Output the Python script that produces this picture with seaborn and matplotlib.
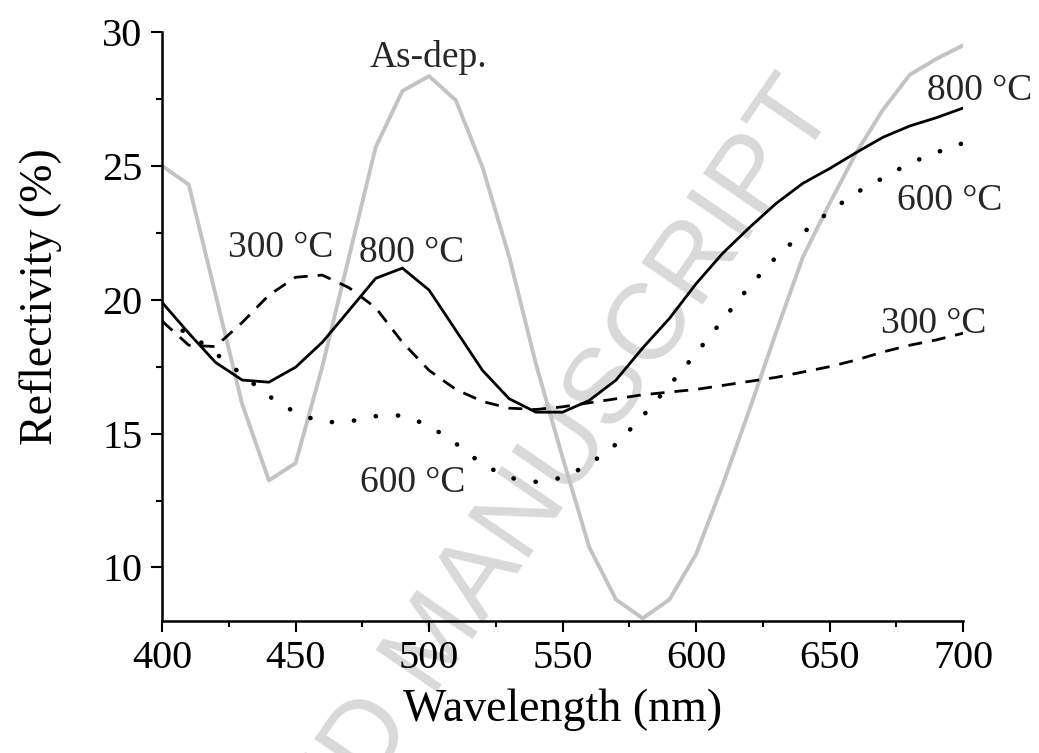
import numpy as np
import pandas as pd
import matplotlib
matplotlib.use("Agg")
import matplotlib.pyplot as plt
import seaborn as sns

# Wavelength grid (nm)
wavelength = [400, 410, 420, 430, 440, 450, 460, 470, 480, 490, 500,
              510, 520, 530, 540, 550, 560, 570, 580, 590, 600,
              610, 620, 630, 640, 650, 660, 670, 680, 690, 700]

# Reflectivity (%) per sample
as_dep = [25.0, 24.3, 20.2, 16.1, 13.25, 13.9, 17.5, 21.6, 25.7, 27.8, 28.35,
          27.45, 24.95, 21.6, 17.6, 14.1, 10.75, 8.8, 8.1, 8.8, 10.5,
          13.1, 15.9, 18.8, 21.6, 23.6, 25.5, 27.1, 28.4, 29.0, 29.5]
t300 = [19.2, 18.3, 18.25, 19.15, 20.17, 20.84, 20.92, 20.45, 19.7, 18.41, 17.36,
        16.65, 16.2, 15.95, 15.9, 16.0, 16.15, 16.3, 16.45, 16.55, 16.65,
        16.8, 16.95, 17.1, 17.3, 17.5, 17.75, 18.05, 18.3, 18.5, 18.75]
t600 = [19.16, 18.75, 18.0, 17.2, 16.4, 15.78, 15.42, 15.45, 15.65, 15.68, 15.3,
        14.63, 13.85, 13.35, 13.2, 13.35, 13.85, 14.6, 15.65, 16.8, 18.0,
        19.25, 20.5, 21.6, 22.5, 23.3, 24.0, 24.55, 25.1, 25.5, 25.85]
t800 = [19.9, 18.75, 17.66, 17.0, 16.92, 17.48, 18.41, 19.6, 20.8, 21.18, 20.36,
        18.86, 17.36, 16.3, 15.8, 15.8, 16.24, 17.0, 18.2, 19.3, 20.6,
        21.74, 22.7, 23.6, 24.35, 24.9, 25.5, 26.07, 26.49, 26.8, 27.16]

# Curve labels: text, wavelength, reflectivity (baseline)
label_text = ["As-dep.", "300 °C", "800 °C", "600 °C", "800 °C", "600 °C", "300 °C"]
label_x = [499.6, 444.6, 493.3, 494.0, 706.0, 695.0, 689.0]
label_y = [28.69, 21.59, 21.40, 12.80, 27.46, 23.35, 18.75]

x_ticks = [400, 450, 500, 550, 600, 650, 700]
y_ticks = [10, 15, 20, 25, 30]

sns.set_theme(style="ticks")
plt.rcParams["font.family"] = ["Liberation Serif", "DejaVu Serif"]

fig = plt.figure(figsize=(10.39, 7.53), dpi=100)
ax = fig.add_axes([0.156, 0.1753, 0.771, 0.7822])

# faint diagonal watermark, drawn beneath the axes
fig.text(0.420, 0.146, "ACCEPTED MANUSCRIPT", rotation=55.5, ha="center",
         va="center", fontsize=78, color="#d9d9d9", family="Liberation Sans",
         zorder=-1, rotation_mode="anchor")
ax.set_facecolor("none")

df = pd.DataFrame({"wl": wavelength, "as": as_dep, "t300": t300,
                   "t600": t600, "t800": t800})

sns.lineplot(data=df, x="wl", y="as", ax=ax, color="#c3c3c3", lw=2.8, zorder=2)
sns.lineplot(data=df, x="wl", y="t300", ax=ax, color="black", lw=2.0, zorder=3)
sns.lineplot(data=df, x="wl", y="t800", ax=ax, color="black", lw=2.0, zorder=3)
sns.lineplot(data=df, x="wl", y="t600", ax=ax, color="black", lw=3.3, zorder=3)

lines = ax.get_lines()
lines[1].set_dashes([5.0, 3.6])
lines[3].set_dashes([0.05, 4.8])
lines[3].set_dash_capstyle("round")

for t, x, y in zip(label_text, label_x, label_y):
    ax.text(x, y, t, ha="center", va="baseline", fontsize=27, zorder=4)

ax.set_xlim(400, 700)
ax.set_ylim(8, 30)
ax.set_xticks(x_ticks)
ax.set_yticks(y_ticks)
ax.set_xticks(np.arange(425, 700, 50), minor=True)
ax.set_yticks(np.arange(12.5, 30, 5), minor=True)
ax.tick_params(axis="both", which="major", length=8, width=1.5, labelsize=29,
               direction="out", color="black", labelcolor="black", pad=6)
ax.tick_params(axis="both", which="minor", length=4, width=1.5, direction="out",
               color="black")
for side in ("top", "right"):
    ax.spines[side].set_visible(False)
for side in ("left", "bottom"):
    ax.spines[side].set_linewidth(1.8)
    ax.spines[side].set_color("black")

ax.set_xlabel("Wavelength (nm)", fontsize=33, labelpad=8, color="black")
ax.set_ylabel("Reflectivity (%)", fontsize=33, color="black")
ax.yaxis.set_label_coords(-0.125, 0.55)

fig.savefig("out.png", dpi=100)
